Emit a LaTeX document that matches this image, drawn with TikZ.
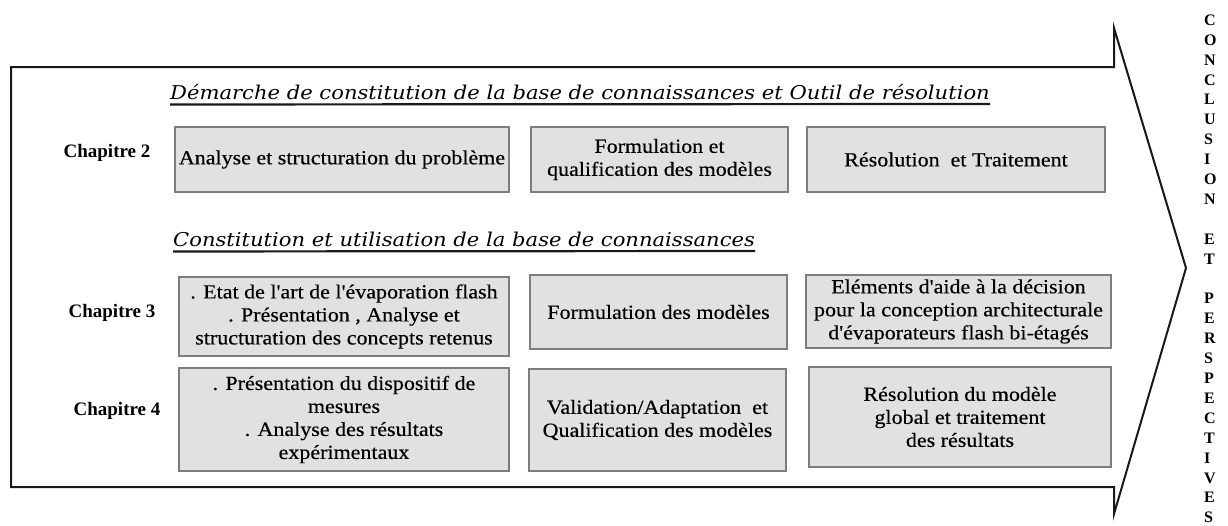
\documentclass[tikz,border=0pt]{standalone}
\usepackage{fontspec}
\setmainfont{Liberation Serif}
\newfontfamily\blocfont[FakeStretch=1.1,FakeBold=0.4]{Liberation Serif}
\newfontfamily\titrefont[FakeStretch=1.11]{DejaVu Serif}
\usetikzlibrary{positioning}
\definecolor{boxfill}{RGB}{225,225,225}
\definecolor{boxline}{RGB}{125,125,125}
\definecolor{trait}{RGB}{25,25,25}

\begin{document}
\begin{tikzpicture}[x=1pt,y=-1pt,
	bloc/.style={draw=boxline,fill=boxfill,line width=1.3pt,inner sep=0pt,align=center,font=\blocfont\fontsize{20}{23}\selectfont},
	chap/.style={font=\bfseries\fontsize{19}{22}\selectfont},
	titre/.style={inner sep=0pt,anchor=base west,font=\titrefont\itshape\fontsize{19}{22}\selectfont},
	souligne/.style={line width=2.2pt,draw=trait}]
		\useasboundingbox[fill=white] (0,0) rectangle (1228,525);

		% grande fleche
		\draw[trait,line width=2pt,line join=miter]
		(11,67) -- (1114,67) -- (1114,28) -- (1186,268) -- (1114,514) -- (1114,487) -- (11,487) -- cycle;

		% titres
		\node[titre] (tA) at (170,99) {Démarche de constitution de la base de connaissances et Outil de résolution};
		\node[titre] (tB) at (173,246) {Constitution et utilisation de la base de connaissances};
		\draw[souligne] (tA.south west) ++(0,5) -- (tA.south east |- 0,104);
		\draw[souligne] (tB.south west) ++(0,5) -- (tB.south east |- 0,251);

		% chapitres
		\node[chap] (ch2) at (107,153) {Chapitre 2};
		\node[chap] (ch3) at (112,313) {Chapitre 3};
		\node[chap] (ch4) at (117,411) {Chapitre 4};

		% chapitre 2
		\node[bloc,minimum width=334pt,minimum height=65pt] (c2a) at (342,159.5) {Analyse et structuration du problème};
		\node[bloc,minimum width=257pt,minimum height=65pt] (c2b) at (659.5,159.5) {Formulation et\\qualification des modèles};
		\node[bloc,minimum width=298pt,minimum height=65pt] (c2c) at (956,159.5) {Résolution\ \ et Traitement};

		% chapitre 3
		\node[bloc,minimum width=330pt,minimum height=79pt] (c3a) at (344,316.5) {. Etat de l'art de l'évaporation flash\\. Présentation , Analyse et\\structuration des concepts retenus};
		\node[bloc,minimum width=257pt,minimum height=74pt] (c3b) at (658.5,312) {Formulation des modèles};
		\node[bloc,minimum width=305pt,minimum height=73pt] (c3c) at (958.5,311.5) {Eléments d'aide à la décision\\pour la conception architecturale\\d'évaporateurs flash bi-étagés};

		% chapitre 4
		\node[bloc,minimum width=330pt,minimum height=103pt] (c4a) at (344,419.5) {. Présentation du dispositif de\\mesures\\. Analyse des résultats\\expérimentaux};
		\node[bloc,minimum width=257pt,minimum height=102pt] (c4b) at (657.5,420) {Validation/Adaptation\ \ et\\Qualification des modèles};
		\node[bloc,minimum width=302pt,minimum height=100pt] (c4c) at (960,417) {Résolution du modèle\\global et traitement\\des résultats};

		% conclusion
		\node[anchor=north west,inner sep=0pt,align=left,font=\bfseries\fontsize{16}{19.9}\selectfont] (concl) at (1204,14.5)
		{C\\O\\N\\C\\L\\U\\S\\I\\O\\N\\[19.9pt]E\\T\\[19.9pt]P\\E\\R\\S\\P\\E\\C\\T\\I\\V\\E\\S};
	\end{tikzpicture}
\end{document}
